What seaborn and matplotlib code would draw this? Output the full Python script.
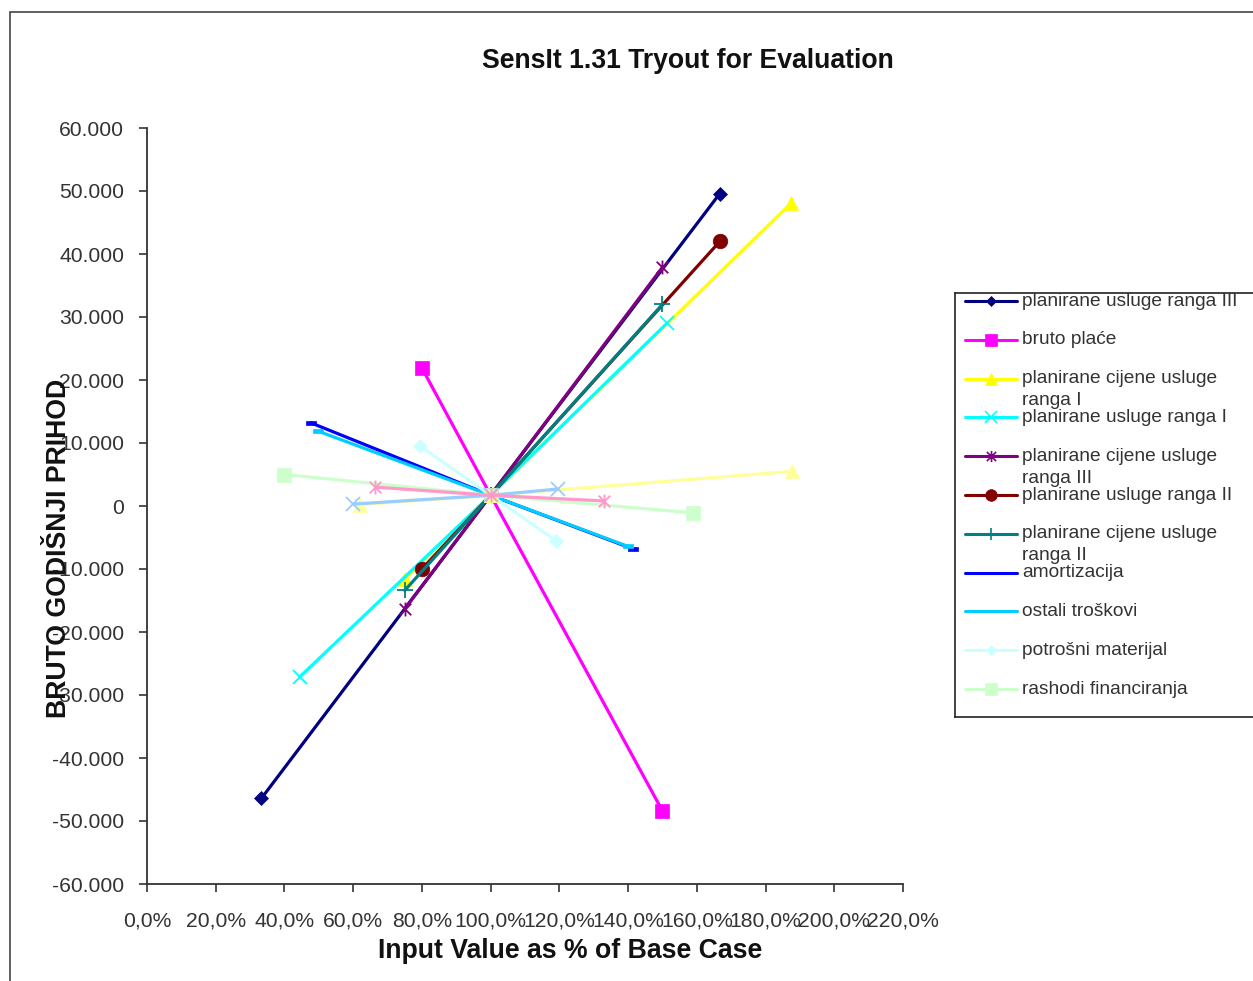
import numpy as np
import pandas as pd
import matplotlib
matplotlib.use("Agg")
import matplotlib.pyplot as plt
from matplotlib.path import Path
from matplotlib.patches import Rectangle
from matplotlib.ticker import FuncFormatter, MultipleLocator
import seaborn as sns

# Sensitivity data: input value as fraction of base case -> gross annual income
base_value = 1700

series_names = [
    "planirane usluge ranga III",
    "bruto plaće",
    "planirane cijene usluge ranga I",
    "planirane usluge ranga I",
    "planirane cijene usluge ranga III",
    "planirane usluge ranga II",
    "planirane cijene usluge ranga II",
    "amortizacija",
    "ostali troškovi",
    "potrošni materijal",
    "rashodi financiranja",
    "series 12",
    "series 13",
    "series 14",
]
legend_lines = [
    ["planirane usluge ranga III"],
    ["bruto plaće"],
    ["planirane cijene usluge", "ranga I"],
    ["planirane usluge ranga I"],
    ["planirane cijene usluge", "ranga III"],
    ["planirane usluge ranga II"],
    ["planirane cijene usluge", "ranga II"],
    ["amortizacija"],
    ["ostali troškovi"],
    ["potrošni materijal"],
    ["rashodi financiranja"],
]

x_low = [0.333, 0.80, 0.75, 0.445, 0.75, 0.80, 0.75, 0.477, 0.497, 0.795, 0.40, 0.62, 0.60, 0.664]
y_low = [-46400, 21900, -11600, -27100, -16300, -10000, -13400, 13200, 11900, 9500, 5000, 200, 300, 3000]
x_high = [1.667, 1.50, 1.875, 1.513, 1.50, 1.667, 1.50, 1.414, 1.399, 1.19, 1.59, 1.877, 1.196, 1.33]
y_high = [49600, -48400, 48100, 29000, 37900, 42000, 32000, -6800, -6400, -5500, -1100, 5500, 2700, 800]

colors = ["#000080", "#FF00FF", "#FFFF00", "#00FFFF", "#800080", "#800000", "#008080",
          "#0000FF", "#00CCFF", "#CCFFFF", "#CCFFCC", "#FFFF99", "#99CCFF", "#FF99CC"]

# Marker shapes in the spreadsheet style
star_path = Path([(-1, -1), (1, 1), (-1, 1), (1, -1), (0, -1.2), (0, 1.2)],
                 [Path.MOVETO, Path.LINETO, Path.MOVETO, Path.LINETO, Path.MOVETO, Path.LINETO])
dash_path = Path([(-1, -0.35), (1, -0.35), (1, 0.35), (-1, 0.35), (-1, -0.35)],
                 [Path.MOVETO, Path.LINETO, Path.LINETO, Path.LINETO, Path.CLOSEPOLY])
markers = ["D", "s", "^", "x", star_path, "o", "+", dash_path, dash_path, "D", "s", "^", "x", star_path]
msizes = [7, 10, 10, 10, 10, 10.5, 11, 7, 7, 7, 10, 10, 10, 10]

rows = []
for i, name in enumerate(series_names):
    for order, (xv, yv) in enumerate([(x_low[i], y_low[i]), (1.0, base_value), (x_high[i], y_high[i])]):
        rows.append({"series": name, "order": order, "x": xv, "y": yv})
df = pd.DataFrame(rows)

sns.set_style("ticks")
plt.rcParams["font.family"] = ["Liberation Sans", "DejaVu Sans"]

W, H = 1253, 981
fig = plt.figure(figsize=(W / 100, H / 100), dpi=100)

# Chart area border
fig.patches.append(Rectangle((10 / W, -0.1), 1.2, 1.1 - 12 / H, transform=fig.transFigure,
                             fill=False, edgecolor="#444444", linewidth=1.2))

ax = fig.add_axes([147 / W, 1 - 884 / H, 756 / W, 756 / H])


def is_unfilled(m):
    return isinstance(m, Path) and m is star_path or m in ("x", "+")


for i, name in enumerate(series_names):
    sub = df[df["series"] == name]
    sns.lineplot(data=sub, x="x", y="y", sort=False, estimator=None, ax=ax,
                 color=colors[i], linewidth=2.3, marker=markers[i], markersize=msizes[i],
                 markeredgecolor=colors[i], markerfacecolor=colors[i],
                 markeredgewidth=1.3 if is_unfilled(markers[i]) else 0.5, legend=False)

ax.set_xlim(0, 2.2)
ax.set_ylim(-60000, 60000)
ax.xaxis.set_major_locator(MultipleLocator(0.2))
ax.yaxis.set_major_locator(MultipleLocator(10000))
ax.xaxis.set_major_formatter(FuncFormatter(lambda v, p: f"{v * 100:.1f}%".replace(".", ",")))
ax.yaxis.set_major_formatter(FuncFormatter(lambda v, p: f"{v:,.0f}".replace(",", ".")))
ax.tick_params(axis="both", direction="out", length=6, width=1.2, colors="#333333",
               labelsize=15.2, labelcolor="#333333")
ax.tick_params(axis="y", pad=10.5)
ax.tick_params(axis="x", pad=14)
for s in ["top", "right"]:
    ax.spines[s].set_visible(False)
for s in ["left", "bottom"]:
    ax.spines[s].set_color("#333333")
    ax.spines[s].set_linewidth(1.3)
ax.set_facecolor("none")

ax.set_xlabel("Input Value as % of Base Case", fontsize=19.2, fontweight="bold", color="#111111")
ax.xaxis.set_label_coords(0.5595, (884 - 938) / 756)
ax.set_ylabel("BRUTO GODIŠNJI PRIHOD", fontsize=19.2, fontweight="bold", color="#111111")
ax.yaxis.set_label_coords((72 - 147) / 756, (884 - 548) / 756)

fig.text(688 / W, 1 - 61 / H, "SensIt 1.31 Tryout for Evaluation", ha="center", va="center",
         fontsize=19.2, fontweight="bold", color="#111111")

# Legend box drawn as its own axes, in pixel-like coordinates
lx0, ly0, lw_, lh_ = 955, 293, 420, 424
lax = fig.add_axes([lx0 / W, 1 - (ly0 + lh_) / H, lw_ / W, lh_ / H])
lax.set_xlim(0, lw_)
lax.set_ylim(lh_, 0)
lax.set_xticks([])
lax.set_yticks([])
for s in lax.spines.values():
    s.set_color("#222222")
    s.set_linewidth(1.2)
lax.set_facecolor("white")

pitch = 38.8
for i, lines in enumerate(legend_lines):
    yc = 8 + i * pitch
    lax.plot([10, 62], [yc, yc], color=colors[i], linewidth=2.2)
    lax.plot([36], [yc], linestyle="none", marker=markers[i], markersize=msizes[i] * 0.8,
             color=colors[i], markeredgewidth=1.2 if is_unfilled(markers[i]) else 0.5)
    for k, txt in enumerate(lines):
        lax.text(67, yc + k * 22, txt, ha="left", va="center", fontsize=13.8, color="#333333")

fig.savefig("out.png", dpi=100, facecolor="white")
